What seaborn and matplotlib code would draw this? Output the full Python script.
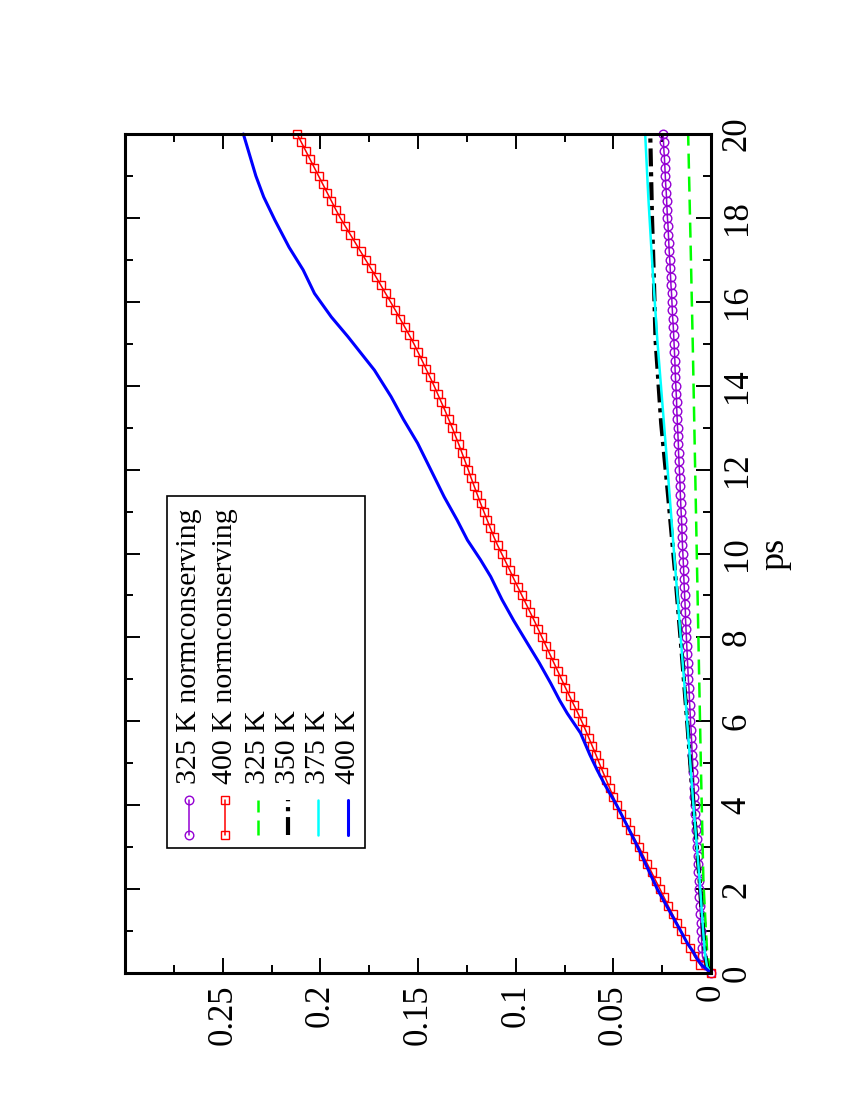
import numpy as np
import matplotlib
matplotlib.use("Agg")
import matplotlib.pyplot as plt
from matplotlib.ticker import FixedLocator, MultipleLocator
from matplotlib.patches import Rectangle
import seaborn as sns

# normconserving runs: one point every 0.2 ps
ps_nc = np.round(np.arange(101) * 0.2, 1)

msd_325_nc = [
    0.0000, 0.0030, 0.0044, 0.0046, 0.0048, 0.0050, 0.0052, 0.0054, 0.0057, 0.0059,
    0.0061, 0.0063, 0.0065, 0.0067, 0.0069, 0.0072, 0.0074, 0.0076, 0.0078, 0.0080,
    0.0083, 0.0085, 0.0087, 0.0089, 0.0091, 0.0094, 0.0096, 0.0098, 0.0100, 0.0102,
    0.0105, 0.0107, 0.0109, 0.0111, 0.0113, 0.0116, 0.0118, 0.0120, 0.0122, 0.0124,
    0.0126, 0.0128, 0.0130, 0.0131, 0.0133, 0.0135, 0.0137, 0.0139, 0.0140, 0.0142,
    0.0144, 0.0146, 0.0148, 0.0149, 0.0151, 0.0153, 0.0155, 0.0157, 0.0158, 0.0160,
    0.0162, 0.0164, 0.0166, 0.0167, 0.0169, 0.0171, 0.0173, 0.0175, 0.0176, 0.0178,
    0.0180, 0.0182, 0.0184, 0.0185, 0.0187, 0.0189, 0.0191, 0.0193, 0.0196, 0.0198,
    0.0200, 0.0202, 0.0205, 0.0207, 0.0209, 0.0211, 0.0214, 0.0216, 0.0218, 0.0220,
    0.0223, 0.0225, 0.0227, 0.0229, 0.0232, 0.0234, 0.0236, 0.0238, 0.0241, 0.0243,
    0.0245]

msd_400_nc = [
    0.0000, 0.0055, 0.0085, 0.0108, 0.0131, 0.0153, 0.0175, 0.0197, 0.0219, 0.0240,
    0.0261, 0.0283, 0.0304, 0.0326, 0.0347, 0.0368, 0.0391, 0.0414, 0.0437, 0.0460,
    0.0482, 0.0500, 0.0518, 0.0536, 0.0554, 0.0572, 0.0589, 0.0607, 0.0625, 0.0643,
    0.0662, 0.0682, 0.0703, 0.0724, 0.0745, 0.0765, 0.0785, 0.0805, 0.0825, 0.0845,
    0.0865, 0.0885, 0.0905, 0.0926, 0.0947, 0.0968, 0.0989, 0.1010, 0.1030, 0.1051,
    0.1072, 0.1093, 0.1112, 0.1129, 0.1146, 0.1163, 0.1180, 0.1196, 0.1212, 0.1228,
    0.1243, 0.1259, 0.1275, 0.1291, 0.1308, 0.1325, 0.1343, 0.1361, 0.1380, 0.1399,
    0.1418, 0.1438, 0.1459, 0.1479, 0.1500, 0.1521, 0.1544, 0.1568, 0.1592, 0.1616,
    0.1641, 0.1666, 0.1691, 0.1716, 0.1742, 0.1768, 0.1794, 0.1820, 0.1846, 0.1872,
    0.1898, 0.1921, 0.1943, 0.1965, 0.1987, 0.2009, 0.2031, 0.2053, 0.2075, 0.2097,
    0.2119]

ps_325 = [0, 0.45, 1.0, 2.2, 5.0, 8.1, 11.5, 14.9, 17.5, 20.0]
msd_325 = [0, 0.0019, 0.0026, 0.0039, 0.0052, 0.0065, 0.0079, 0.0093, 0.0105, 0.0117]

ps_350 = [0, 0.15, 0.5, 1.0, 2.2, 4.0, 6.0, 8.1, 9.5, 11.5, 13.1, 15.1, 16.8, 18.0, 20.0]
msd_350 = [0, 0.0020, 0.0032, 0.0040, 0.0058, 0.0090, 0.0122, 0.0158, 0.0183,
           0.0222, 0.0255, 0.0284, 0.0294, 0.0302, 0.0311]

ps_375 = [0, 0.15, 0.5, 1.0, 2.2, 4.0, 6.0, 8.0, 10.0, 12.0, 15.1, 17.0, 18.5, 20.0]
msd_375 = [0, 0.0020, 0.0032, 0.0040, 0.0058, 0.0090, 0.0122, 0.0155, 0.0189,
           0.0222, 0.0275, 0.0302, 0.0321, 0.0337]

ps_400 = [0, 0.1, 0.2, 0.35, 0.5, 0.7, 1.0, 1.5, 2.0, 2.5, 3.0, 3.5, 4.0, 4.5, 4.84,
          5.2, 5.72, 6.19, 6.5, 6.91, 7.4, 7.86, 8.4, 8.9, 9.45, 9.85, 10.32, 10.8,
          11.35, 12.0, 12.63, 13.2, 13.74, 14.37, 15.17, 15.64, 16.2, 16.76, 17.3,
          17.95, 18.5, 19.0, 19.5, 20.0]
msd_400 = [0, 0.0025, 0.0050, 0.0073, 0.0090, 0.0120, 0.0155, 0.0215, 0.0275, 0.0325,
           0.0375, 0.0428, 0.0483, 0.0545, 0.0583, 0.0620, 0.0668, 0.0736, 0.0775,
           0.0821, 0.0880, 0.0940, 0.1010, 0.1070, 0.1128, 0.1180, 0.1247, 0.1300,
           0.1366, 0.1435, 0.1502, 0.1575, 0.1638, 0.1723, 0.1859, 0.1944, 0.2030,
           0.2088, 0.2160, 0.2233, 0.2290, 0.2330, 0.2362, 0.2394]

labels = ["325 K normconserving", "400 K normconserving",
          "325 K", "350 K", "375 K", "400 K"]
value_ticks = [0, 0.05, 0.1, 0.15, 0.2, 0.25]
value_labels = ["0", "0.05", "0.1", "0.15", "0.2", "0.25"]

violet = "#9400d3"
styles = [
    dict(color=violet, lw=1.1, marker="o", ms=6.2, mfc="none", mec=violet, mew=1.0),
    dict(color="red", lw=1.1, marker="s", ms=5.8, mfc="none", mec="red", mew=1.0),
    dict(color="#00ff00", lw=1.8, linestyle=(0, (6, 3.2))),
    dict(color="black", lw=3.0, linestyle=(0, (4.3, 1.4, 1, 1.4))),
    dict(color="cyan", lw=1.8),
    dict(color="blue", lw=2.2),
]

sns.set_style("ticks")
plt.rcParams["font.family"] = ["Liberation Serif", "DejaVu Serif"]
plt.rcParams["text.color"] = "black"
plt.rcParams["axes.labelcolor"] = "black"
plt.rcParams["xtick.color"] = "black"
plt.rcParams["ytick.color"] = "black"
plt.rcParams["xtick.labelcolor"] = "black"
plt.rcParams["ytick.labelcolor"] = "black"

fig = plt.figure(figsize=(8.5, 11), dpi=100)
ax = fig.add_axes([125 / 850, 127 / 1100, 586 / 850, 839 / 1100])

series = [(msd_325_nc, ps_nc), (msd_400_nc, ps_nc), (msd_325, ps_325),
          (msd_350, ps_350), (msd_375, ps_375), (msd_400, ps_400)]
for (vals, t), st in zip(series, styles):
    sns.lineplot(x=vals, y=t, sort=False, estimator=None, ax=ax, legend=False,
                 clip_on=False, **st)

ax.set_xlim(0.3, 0)
ax.set_ylim(0, 20)
ax.xaxis.set_major_locator(FixedLocator(value_ticks))
ax.set_xticklabels(value_labels)
ax.xaxis.set_minor_locator(FixedLocator([0.025, 0.075, 0.125, 0.175, 0.225, 0.275]))
ax.yaxis.set_major_locator(MultipleLocator(2))
ax.yaxis.set_minor_locator(MultipleLocator(1))
ax.yaxis.tick_right()
ax.yaxis.set_label_position("right")

ax.tick_params(which="both", direction="in", top=True, bottom=True, left=True,
               right=True, labelleft=False, labelright=True, labeltop=False,
               labelbottom=True, color="black", labelcolor="black", width=1.4)
ax.tick_params(which="major", length=11)
ax.tick_params(which="minor", length=5.5)
ax.tick_params(axis="x", labelrotation=90, labelsize=25, pad=8)
ax.tick_params(axis="y", labelrotation=90, labelsize=25, pad=7)
for lab in ax.get_yticklabels():
    lab.set_va("center")
ax.set_xlabel("")
ax.set_ylabel("ps", fontsize=26, rotation=90, labelpad=3, color="black")

for sp in ax.spines.values():
    sp.set_visible(True)
    sp.set_linewidth(2.2)
    sp.set_color("black")


def to_axes(px, py):
    return (px - 125) / 586, (973 - py) / 839


# legend drawn by hand, rotated like the rest of the page
x0, y0 = to_axes(167, 848)
x1, y1 = to_axes(365, 496)
ax.add_patch(Rectangle((x0, y0), x1 - x0, y1 - y0, transform=ax.transAxes,
                       facecolor="white", edgecolor="black", lw=1.2, zorder=5))
col_x = [189, 225, 258, 288, 318, 348]
for cx, lab, st in zip(col_x, labels, styles):
    lx, ly_top = to_axes(cx, 800)
    _, ly_bot = to_axes(cx, 835)
    ax.plot([lx, lx], [ly_bot, ly_top], transform=ax.transAxes, clip_on=False,
            zorder=6, **st)
    _, ty = to_axes(cx, 784)
    ax.text(lx, ty, lab, rotation=90, ha="center", va="bottom", fontsize=21.5,
            color="black", transform=ax.transAxes, zorder=6)

fig.savefig("out.png", dpi=100)
